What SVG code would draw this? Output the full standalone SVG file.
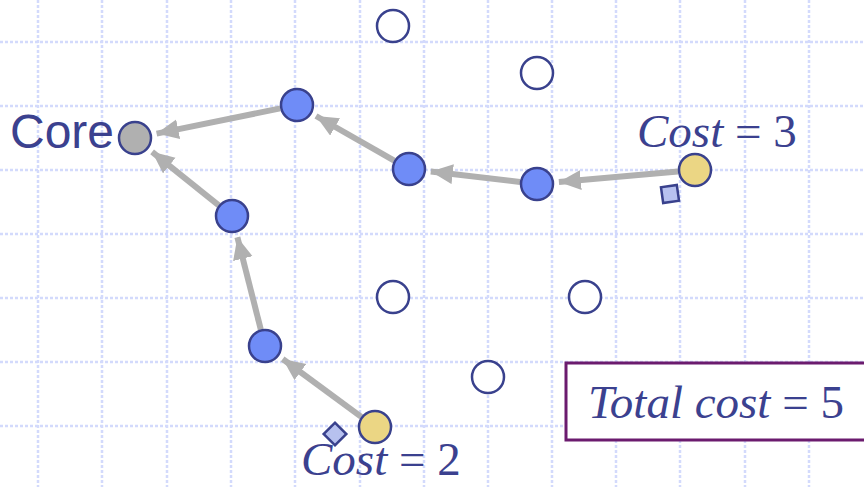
<svg xmlns="http://www.w3.org/2000/svg" width="864" height="487" viewBox="0 0 864 487">
<style>
.grid line{stroke:#d3dafc;stroke-width:2.5;stroke-dasharray:3 2}
.blue{fill:#6f8cf7;stroke:#39418d;stroke-width:2.5}
.open{fill:#ffffff;stroke:#39418d;stroke-width:2.5}
.yellow{fill:#ebd684;stroke:#39418d;stroke-width:2.5}
.core{fill:#b0b0b0;stroke:#39418d;stroke-width:2.5}
.sq{fill:#b7c1ef;stroke:#39418d;stroke-width:2.5}
.edge{stroke:#b0b0b0;stroke-width:6;fill:none;marker-end:url(#ah)}
.lbl{fill:#3b418f;font-family:"Liberation Serif",serif;font-size:47px}
</style>
<defs>
<marker id="ah" markerUnits="userSpaceOnUse" markerWidth="24" markerHeight="22" refX="22" refY="10" orient="auto">
<path d="M0,0 L22,10 L0,20 z" fill="#b0b0b0"/>
</marker>
</defs>
<rect width="864" height="487" fill="#ffffff"/>
<g class="grid">
<line x1="38" y1="0" x2="38" y2="487"/>
<line x1="102" y1="0" x2="102" y2="487"/>
<line x1="167" y1="0" x2="167" y2="487"/>
<line x1="231" y1="0" x2="231" y2="487"/>
<line x1="295" y1="0" x2="295" y2="487"/>
<line x1="360" y1="0" x2="360" y2="487"/>
<line x1="424" y1="0" x2="424" y2="487"/>
<line x1="488" y1="0" x2="488" y2="487"/>
<line x1="552" y1="0" x2="552" y2="487"/>
<line x1="616" y1="0" x2="616" y2="487"/>
<line x1="680" y1="0" x2="680" y2="487"/>
<line x1="745" y1="0" x2="745" y2="487"/>
<line x1="809" y1="0" x2="809" y2="487"/>
<line x1="0" y1="42" x2="864" y2="42"/>
<line x1="0" y1="106" x2="864" y2="106"/>
<line x1="0" y1="170" x2="864" y2="170"/>
<line x1="0" y1="234" x2="864" y2="234"/>
<line x1="0" y1="298" x2="864" y2="298"/>
<line x1="0" y1="362" x2="864" y2="362"/>
<line x1="0" y1="426" x2="864" y2="426"/>
</g>
<g id="connectors">
<line class="edge" x1="280.3" y1="108.4" x2="156.6" y2="133.6"/>
<line class="edge" x1="218.8" y1="205.3" x2="152.1" y2="151.8"/>
<line class="edge" x1="394.2" y1="160.6" x2="316" y2="116"/>
<line class="edge" x1="520.1" y1="182" x2="430.8" y2="171.6"/>
<line class="edge" x1="678" y1="171.5" x2="558.9" y2="182.1"/>
<line class="edge" x1="260.8" y1="329.5" x2="237.4" y2="237.3"/>
<line class="edge" x1="361.3" y1="416.9" x2="282.7" y2="359"/>
</g>
<g id="core"><circle class="core" cx="135" cy="138" r="16"/><text x="10" y="148" fill="#3b418f" font-family="Liberation Sans, Arial, sans-serif" font-size="48">Core</text></g>
<g id="n1"><circle class="blue" cx="297" cy="105" r="16"/></g>
<g id="n2"><circle class="blue" cx="409" cy="169" r="16"/></g>
<g id="n3"><circle class="blue" cx="537" cy="184" r="16"/></g>
<g id="n4"><circle class="blue" cx="232" cy="216" r="16"/></g>
<g id="n5"><circle class="blue" cx="265" cy="346" r="16"/></g>
<g id="o1"><circle class="open" cx="393" cy="26" r="16"/></g>
<g id="o2"><circle class="open" cx="537" cy="73" r="16"/></g>
<g id="o3"><circle class="open" cx="393" cy="297" r="16"/></g>
<g id="o4"><circle class="open" cx="585" cy="297" r="16"/></g>
<g id="o5"><circle class="open" cx="488" cy="377" r="16"/></g>
<g id="src3"><circle class="yellow" cx="695" cy="170" r="16"/><rect class="sq" x="662" y="186" width="16" height="16" transform="rotate(-8 670 194)"/><text class="lbl" x="637" y="147"><tspan font-style="italic">Cost</tspan> = 3</text></g>
<g id="src2"><circle class="yellow" cx="375" cy="427" r="16"/><rect class="sq" x="327" y="426" width="16" height="16" transform="rotate(45 335 434)"/><text class="lbl" x="301" y="475" font-size="46"><tspan font-style="italic">Cost</tspan> = 2</text></g>
<g id="total"><rect x="566" y="363" width="310" height="77" fill="#ffffff" stroke="#6b1b6e" stroke-width="3"/><text class="lbl" x="588" y="418"><tspan font-style="italic">Total cost</tspan> = 5</text></g>
</svg>
